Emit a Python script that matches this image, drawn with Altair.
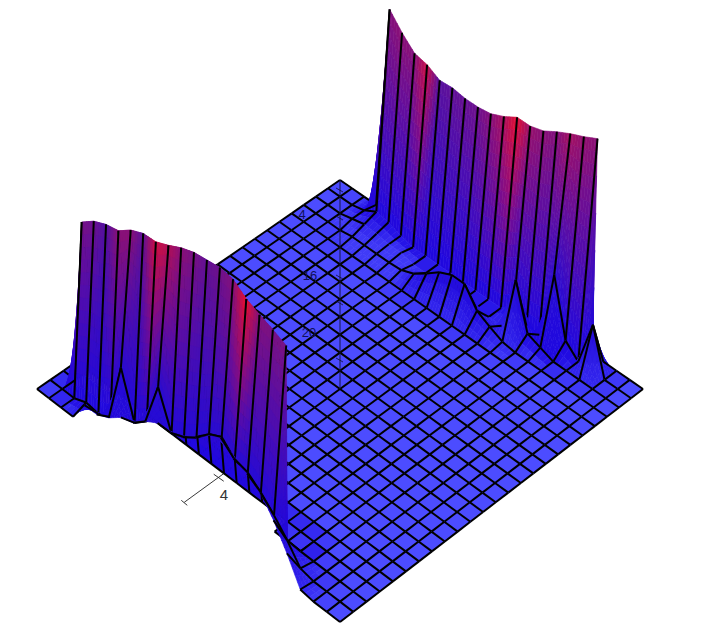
import altair as alt

N = 24
# Heights, in screen units above the base plane
back_ridge_start = 4
back_ridge = [204, 189, 177, 174, 167, 168, 166, 166, 168, 174, 182, 182, 186, 194, 201, 207, 214]
back_heat = [.4, .45, .45, .9, .2, .25, .3, .35, .5, .7, 1, .55, .45, .4, .6, .5, .45]
back_row1 = {3: 3, 4: 10, 5: 8, 6: 3, 15: 12, 18: 69, 19: 12, 21: 46}
back_row2 = {3: 3, 4: 6, 5: 5, 6: 3, 7: 3, 16: 55, 17: 10, 18: 5}
back_row3 = {4: 2, 5: 2, 6: 2, 7: 2, 8: 3, 9: 8, 10: 17, 11: 27, 12: 33, 13: 33, 14: 15, 15: 8, 16: 2}

front_ridge_start = 2
front_ridge = [167, 177, 183, 186, 196, 202, 203, 209, 216, 221, 223, 225, 223, 213, 207, 202, 196]
front_heat = [.4, .3, .12, .45, .45, .18, .85, .7, .45, .35, .22, .28, .4, 1, .4, .35, .35]
front_row23 = {3: 5, 4: 3, 5: 9, 6: 68, 7: 22, 8: 33, 9: 77, 10: 40, 11: 46, 12: 55, 13: 68,
               14: 75, 15: 62, 16: 59, 17: 49, 18: 36, 19: 21, 20: 3}
front_row24 = {4: 21, 5: 21, 6: 27, 7: 37, 8: 41, 9: 52, 10: 60, 11: 60, 12: 65, 13: 75, 14: 88,
               15: 94, 16: 83, 17: 78, 18: 69, 19: 51, 20: 28, 21: 2}

z_ticks = [190, 218, 277, 303, 360]
labels = [("4", 224, 495, 15, "#333333"), ("4", 302, 215, 13, "#10105a"),
          ("16", 310, 276, 13, "#10105a"), ("20", 309, 333, 13, "#10105a")]

PLANE = (76, 76, 255)
DEEP = (30, 8, 225)
COOL = (62, 18, 175)
HOT = (235, 15, 45)
# end cells of each wall: the wall's end falls straight to the next row
end_cells = {(20, 0), (18, 22)}
# cells behind the end of the front wall, seen as plain plane
flat_cells = {(17, 21), (18, 21)}
# rows whose lines along the wall are not drawn, by row
SKIP_I = {0: range(4, 21), 1: range(4, 18), 2: range(4, 16), 22: range(2, 19), 24: range(3, 21)}


def build_heights():
    h = [[0.0] * (N + 1) for _ in range(N + 1)]
    heat = [[0.0] * (N + 1) for _ in range(N + 1)]
    for k, v in enumerate(back_ridge):
        h[back_ridge_start + k][0] = v
        heat[back_ridge_start + k][0] = back_heat[k]
    for k, v in enumerate(front_ridge):
        h[front_ridge_start + k][22] = v
        heat[front_ridge_start + k][22] = front_heat[k]
    for row, table in ((1, back_row1), (2, back_row2), (3, back_row3), (23, front_row23), (24, front_row24)):
        for i, v in table.items():
            h[i][row] = v
    return h, heat


H, HEAT = build_heights()


def project(i, j, height):
    s = (i + j) / N
    w = 1 - 0.0515 * s
    xb = 340 + 287.4 * (i - j) / N / w
    yb = (180 + 189 * s) / w
    return [340 + (xb - 340) * (1 + 1.36e-4 * height), yb - height]


def mix(a, b, t):
    return tuple(a[k] + (b[k] - a[k]) * t for k in range(3))


def neighbour_peak(i, j):
    best = 0
    for a in range(max(i - 1, 0), min(i + 2, N + 1)):
        for b in range(max(j - 1, 0), min(j + 2, N + 1)):
            best = max(best, H[a][b])
    return best


def vertex_colour(i, j):
    height, heat = H[i][j], HEAT[i][j]
    near = neighbour_peak(i, j)
    depth = max(min(height / 10, 1), 1.0 if near > 60 else 0.55 if near > 12 else 0.25 if near > 0 else 0)
    low = mix(PLANE, DEEP, depth)
    top = mix(COOL, HOT, heat)
    return mix(low, top, min((height / 185) ** 1.15, 1))


def hexa(c):
    return "#%02x%02x%02x" % tuple(int(round(v)) for v in c)


features = []


def poly(pts, fill):
    features.append({"type": "Feature",
                     "properties": {"fill": fill, "stroke": fill, "sw": 0.6},
                     "geometry": {"type": "Polygon", "coordinates": [pts + [pts[0]]]}})


def line(pts, sw=2.0, colour="#000000"):
    features.append({"type": "Feature",
                     "properties": {"fill": "none", "stroke": colour, "sw": sw},
                     "geometry": {"type": "LineString", "coordinates": pts}})


def lerp2(a, b, c, d, s, t):
    return [(a[k] * (1 - s) + b[k] * s) * (1 - t) + (d[k] * (1 - s) + c[k] * s) * t for k in range(len(a))]


# the axis lying in the plane, drawn first: the surface covers it
line([project(12, 12, 0), project(12, 24, 0)], 0.9, "#222222")
a = project(12, 21.4, 0)
line([[a[0] - 5, a[1] - 3], [a[0] + 5, a[1] + 4]], 0.9, "#222222")
a = project(12, 24, 0)
line([[a[0] - 3, a[1] - 2], [a[0] + 3, a[1] + 3]], 0.9, "#222222")

cells = sorted(((i, j) for i in range(N) for j in range(N)), key=lambda c: (c[0] + c[1], c[0]))
for i, j in cells:
    corners = [(i, j), (i + 1, j), (i + 1, j + 1), (i, j + 1)]
    hs = [H[a][b] for a, b in corners]
    pts = [project(a, b, H[a][b]) for a, b in corners]
    cols = [vertex_colour(a, b) for a, b in corners]
    draw = pts
    colours = cols
    if (i, j) in flat_cells:
        base = [project(a, b, 0) for a, b in corners]
        poly(base, hexa(mix(PLANE, DEEP, .35)))
        line([base[0], base[1]])
        line([base[0], base[3]])
        line([base[1], base[2]])
        line([base[3], base[2]])
        continue
    if (i, j) in end_cells:
        # lower flare of the end: a triangle on the plane side of the wall's end
        b1, b2 = project(i + 1, j, 0), project(i + 1, j + 1, H[i + 1][j + 1])
        b0 = project(i, j, 0) if j else project(i, j + 1, H[i][j + 1])
        poly([b0, b1, b2], hexa(mix(PLANE, DEEP, .6)))
        line([b0, b1])
        line([b1, b2])
        draw = [pts[0], pts[2], pts[2], pts[3]]
        colours = [cols[0], cols[2], cols[2], cols[3]]
    if max(hs) == 0:
        flat = mix(mix(mix(cols[0], cols[1], .5), cols[2], .33), cols[3], .25)
        poly(pts, hexa(flat))
    else:
        span = max(hs) - min(hs)
        nt = 2 + int(span / 14)
        ns = 5 if span > 20 else 3
        for sa in range(ns):
            for ta in range(nt):
                s0, s1 = sa / ns, (sa + 1) / ns
                t0, t1 = ta / nt, (ta + 1) / nt
                sub = [lerp2(*draw, s, t) for s, t in ((s0, t0), (s1, t0), (s1, t1), (s0, t1))]
                colour = lerp2(*colours, (s0 + s1) / 2, (t0 + t1) / 2)
                poly(sub, hexa(colour))
    # grid lines of the cell
    if not (j in SKIP_I and i in SKIP_I[j]):
        line([pts[0], pts[1]])
    line([pts[0], pts[3]])
    if j == N - 1 and i not in SKIP_I[24]:
        line([pts[3], pts[2]])
    if i == N - 1:
        line([pts[1], pts[2]])

# the upright axis stands in front of the plane
line([project(12, 12, 0), project(12, 12, 209)], 0.9, "#111133")
for y in z_ticks:
    line([[336, y - 2], [343, y + 2]], 0.8, "#111133")

surface = (
    alt.Chart(alt.Data(values=features))
    .mark_geoshape()
    .encode(
        fill=alt.Fill("properties.fill:N", scale=None),
        stroke=alt.Stroke("properties.stroke:N", scale=None),
        strokeWidth=alt.StrokeWidth("properties.sw:Q", scale=None),
    )
)

text = (
    alt.Chart(alt.Data(values=[{"t": t, "lon": x, "lat": y, "s": s, "c": c} for t, x, y, s, c in labels]))
    .mark_text(font="Liberation Sans", align="center", baseline="middle")
    .encode(
        longitude="lon:Q",
        latitude="lat:Q",
        text="t:N",
        size=alt.Size("s:Q", scale=None),
        color=alt.Color("c:N", scale=None),
    )
)

chart = (
    alt.layer(surface, text)
    .project(type="identity", scale=1, translate=[-8, -8])
    .properties(width=704, height=624, padding=0, background="#ffffff")
    .configure_view(stroke=None)
)
chart.save("out.html", embed_options={"renderer": "svg", "actions": False})
